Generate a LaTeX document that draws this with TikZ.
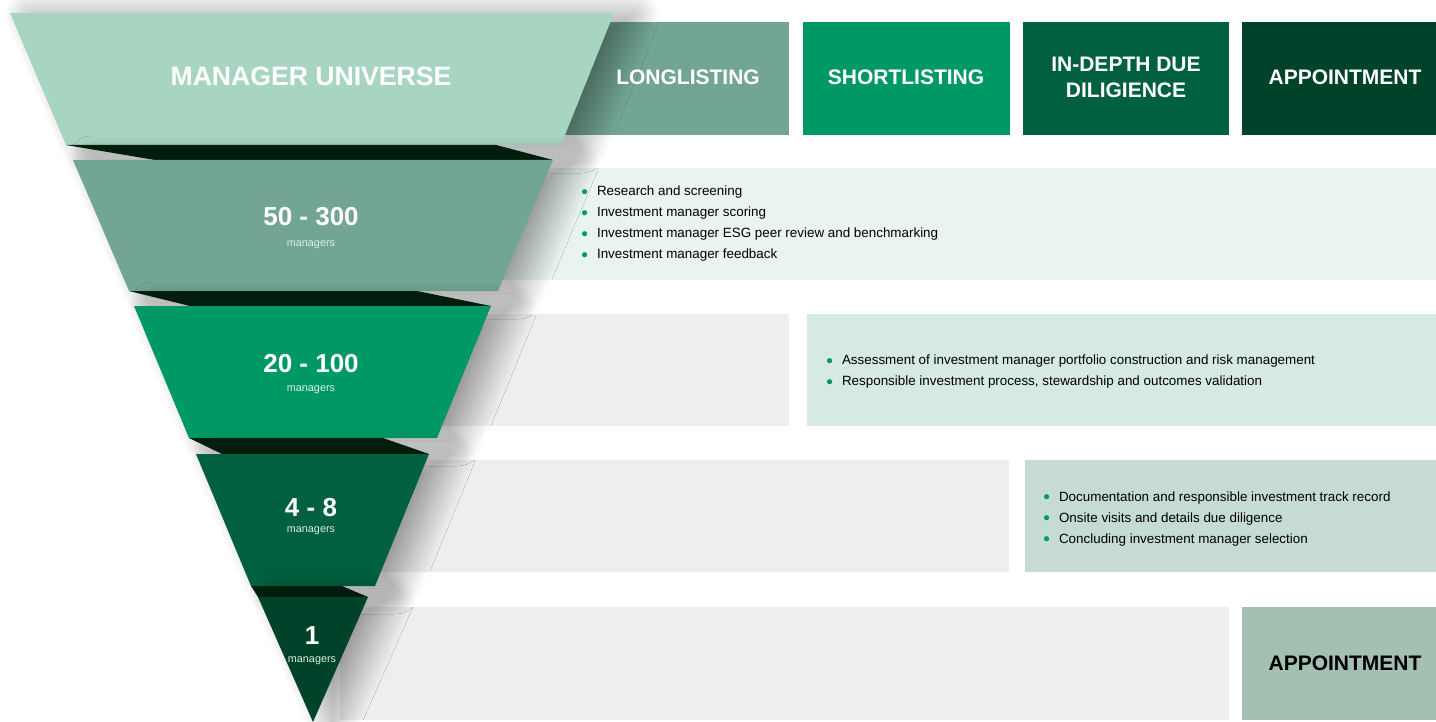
\documentclass[tikz,border=0pt]{standalone}
\usepackage{xcolor}
\usepackage{fontspec}
\setmainfont{Liberation Sans}
\usepackage{tikz}
\usetikzlibrary{shadows.blur}

\definecolor{topgreen}{HTML}{A8D5C2}
\definecolor{lvlone}{HTML}{72A693}
\definecolor{lvltwo}{HTML}{009966}
\definecolor{lvlthree}{HTML}{006040}
\definecolor{lvlfour}{HTML}{00432B}
\definecolor{foldgreen}{HTML}{00220F}
\definecolor{rowone}{HTML}{EAF4EF}
\definecolor{rowtwo}{HTML}{D6EAE1}
\definecolor{rowthree}{HTML}{C6DCD3}
\definecolor{rowfour}{HTML}{A3C0B3}
\definecolor{greybar}{HTML}{EFEDF0}
\definecolor{mgrtext}{HTML}{DDEFE7}
\definecolor{puce}{HTML}{009966}

\newcommand{\puce}{\raisebox{-1.2pt}{\color{puce}\fontsize{9.5}{9.5}\selectfont\textbullet}\hspace{4.5pt}}

\begin{document}
\begin{tikzpicture}[x=0.5pt, y=-0.5pt,
    stage/.style={fill=#1, blur shadow={shadow xshift=10pt, shadow yshift=-1pt,
        shadow blur radius=13pt, shadow blur steps=40, shadow opacity=40}},
    fold/.style={fill=foldgreen},
    headtxt/.style={text=white, align=center,
        font=\bfseries\fontsize{10.5}{13}\selectfont},
    counttxt/.style={text=white, font=\bfseries\fontsize{13}{15}\selectfont},
    smalltxt/.style={text=mgrtext, font=\fontsize{5.4}{6}\selectfont},
    bullettxt/.style={anchor=west, inner sep=0pt, align=left,
        font=\fontsize{6.7}{10.5}\selectfont}]
    \useasboundingbox (0,0) rectangle (1436,722);

    % En-tetes
    \fill[lvlone] (565,22) rectangle (789,135);
    \fill[lvltwo] (803,22) rectangle (1010,135);
    \fill[lvlthree] (1023,22) rectangle (1229,135);
    \fill[lvlfour] (1242,22) rectangle (1436,135);

    % Bandeaux
    \fill[rowone] (500,168) rectangle (1436,280);
    \fill[greybar] (440,314) rectangle (789,426);
    \fill[rowtwo] (807,314) rectangle (1436,426);
    \fill[greybar] (380,460) rectangle (1009,572);
    \fill[rowthree] (1025,460) rectangle (1436,572);
    \fill[greybar] (340,607) rectangle (1229,720);
    \fill[rowfour] (1242,607) rectangle (1436,720);

    % Entonnoir
    \fill[stage=topgreen] (10,13) -- (614,13) -- (561,145) -- (66,145) -- cycle;
    \fill[fold] (66,145) -- (496,145) -- (553,160) -- (155,160) -- cycle;
    \fill[stage=lvlone] (73,160) -- (553,160) -- (498,291) -- (129,291) -- cycle;
    \fill[fold] (129,291) -- (417,291) -- (491,306) -- (190,306) -- cycle;
    \fill[stage=lvltwo] (134,306) -- (491,306) -- (437,438) -- (189,438) -- cycle;
    \fill[fold] (189,438) -- (383,438) -- (429,454) -- (222,454) -- cycle;
    \fill[stage=lvlthree] (196,454) -- (429,454) -- (375,586) -- (251,586) -- cycle;
    \fill[fold] (251,586) -- (342,586) -- (368,597) -- (258,597) -- cycle;
    \fill[stage=lvlfour] (258,597) -- (368,597) -- (313,722) -- cycle;

    % Textes de l'entonnoir
    \node[headtxt, font=\bfseries\fontsize{13.3}{15}\selectfont] (univers) at (311,76) {MANAGER UNIVERSE};
    \node[counttxt] (nbA) at (311,217) {50 - 300};
    \node[smalltxt] (mgA) at (311,245) {managers};
    \node[counttxt] (nbB) at (311,364) {20 - 100};
    \node[smalltxt] (mgB) at (311,390) {managers};
    \node[counttxt] (nbC) at (311,508) {4 - 8};
    \node[smalltxt] (mgC) at (311,531) {managers};
    \node[counttxt] (nbD) at (312,636) {1};
    \node[smalltxt] (mgD) at (312,661) {managers};

    % Textes des en-tetes
    \node[headtxt] (longlist) at (688,77) {LONGLISTING};
    \node[headtxt] (shortlist) at (906,77) {SHORTLISTING};
    \node[headtxt] (diligence) at (1126,77) {IN-DEPTH DUE\\DILIGIENCE};
    \node[headtxt] (nomination) at (1345,77) {APPOINTMENT};

    % Listes
    \node[bullettxt] (listeA) at (581,224) {\puce Research and screening\\
        \puce Investment manager scoring\\
        \puce Investment manager ESG peer review and benchmarking\\
        \puce Investment manager feedback};
    \node[bullettxt] (listeB) at (826,372) {\puce Assessment of investment manager portfolio construction and risk management\\
        \puce Responsible investment process, stewardship and outcomes validation};
    \node[bullettxt] (listeC) at (1043,519) {\puce Documentation and responsible investment track record\\
        \puce Onsite visits and details due diligence\\
        \puce Concluding investment manager selection};
    \node[headtxt, text=black] (finale) at (1345,663) {APPOINTMENT};
\end{tikzpicture}
\end{document}
